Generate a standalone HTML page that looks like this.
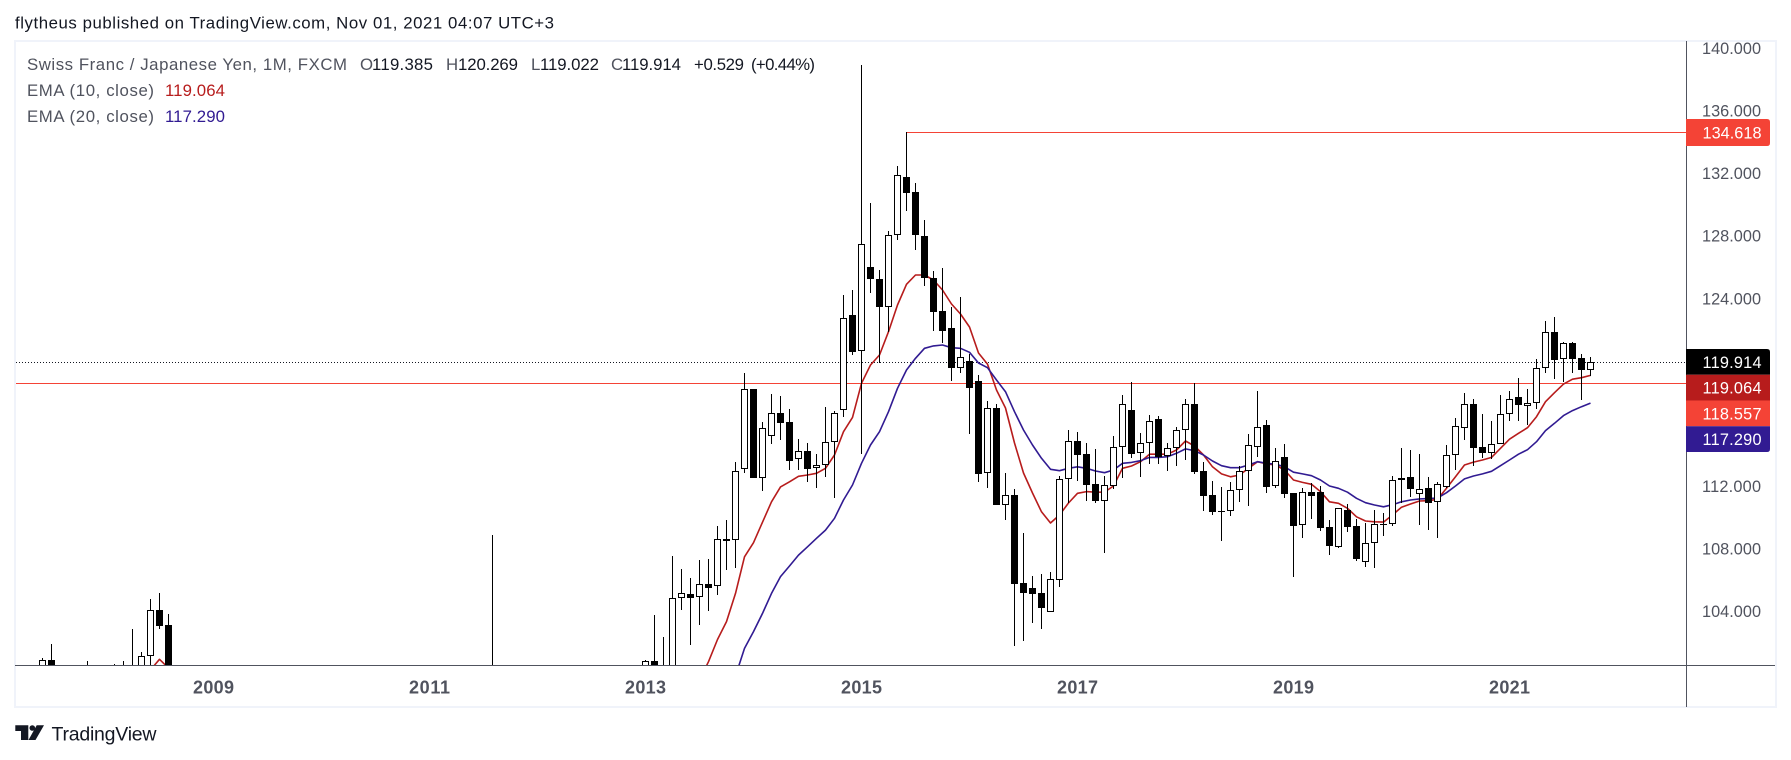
<!DOCTYPE html>
<html lang="en">
<head>
<meta charset="utf-8">
<title>CHFJPY monthly chart</title>
<style>
  html, body { margin: 0; padding: 0; background: #fff; }
  svg { display: block; }
  text { font-family: "Liberation Sans", sans-serif; }
</style>
</head>
<body>
<svg id="chart" xmlns="http://www.w3.org/2000/svg" width="1791" height="760" viewBox="0 0 1791 760">
  <rect x="0" y="0" width="1791" height="760" fill="#ffffff"/>
  <text x="15" y="28.5" font-size="16.8" fill="#131722" textLength="539">flytheus published on TradingView.com, Nov 01, 2021 04:07 UTC+3</text>
  <rect x="15" y="41" width="1761" height="666" fill="none" stroke="#f0f3fa" stroke-width="2"/>
  <g id="pane"></g>
  <rect x="15" y="665" width="1760" height="1" fill="#50535e"/>
  <rect x="1686" y="41" width="1" height="666" fill="#50535e"/>
  <g id="priceTicksG"></g>
  <g id="timeTicksG"></g>
  <g id="tagsG"></g>

  <g font-size="16.8">
    <text x="27" y="70" fill="#50535e" textLength="320">Swiss Franc / Japanese Yen, 1M, FXCM</text>
    <text x="360" y="70" fill="#50535e">O</text>
    <text x="372" y="70" fill="#131722" textLength="61">119.385</text>
    <text x="446" y="70" fill="#50535e">H</text>
    <text x="458" y="70" fill="#131722" textLength="60">120.269</text>
    <text x="531" y="70" fill="#50535e">L</text>
    <text x="540" y="70" fill="#131722" textLength="59">119.022</text>
    <text x="611" y="70" fill="#50535e">C</text>
    <text x="622" y="70" fill="#131722" textLength="59">119.914</text>
    <text x="694" y="70" fill="#131722" textLength="50">+0.529</text>
    <text x="751" y="70" fill="#131722" textLength="64">(+0.44%)</text>
    <text x="27" y="96" fill="#50535e" textLength="127">EMA (10, close)</text>
    <text x="165" y="96" fill="#b71c1c" textLength="60">119.064</text>
    <text x="27" y="122" fill="#50535e" textLength="127">EMA (20, close)</text>
    <text x="165" y="122" fill="#311b92" textLength="60">117.290</text>
  </g>

  <g>
    <path fill="#131722" d="M15.3 725.3H28.3V740H21V731H15.3Z M36.7 725.3H44L35.5 740H28.5Z"/>
    <circle cx="32.3" cy="728" r="2.8" fill="#131722"/>
    <text x="51.5" y="740.5" font-size="19.5" fill="#131722" textLength="105">TradingView</text>
  </g>
</svg>

<script>
// ---- chart data ----
const months = [
  "2007-06","2007-07","2007-11","2008-02","2008-03","2008-04","2008-05","2008-06","2008-07","2008-08","2011-08",
  "2013-01","2013-02","2013-03","2013-04","2013-05","2013-06","2013-07","2013-08","2013-09","2013-10","2013-11","2013-12",
  "2014-01","2014-02","2014-03","2014-04","2014-05","2014-06","2014-07","2014-08","2014-09","2014-10","2014-11","2014-12",
  "2015-01","2015-02","2015-03","2015-04","2015-05","2015-06","2015-07","2015-08","2015-09","2015-10","2015-11","2015-12",
  "2016-01","2016-02","2016-03","2016-04","2016-05","2016-06","2016-07","2016-08","2016-09","2016-10","2016-11","2016-12",
  "2017-01","2017-02","2017-03","2017-04","2017-05","2017-06","2017-07","2017-08","2017-09","2017-10","2017-11","2017-12",
  "2018-01","2018-02","2018-03","2018-04","2018-05","2018-06","2018-07","2018-08","2018-09","2018-10","2018-11","2018-12",
  "2019-01","2019-02","2019-03","2019-04","2019-05","2019-06","2019-07","2019-08","2019-09","2019-10","2019-11","2019-12",
  "2020-01","2020-02","2020-03","2020-04","2020-05","2020-06","2020-07","2020-08","2020-09","2020-10","2020-11","2020-12",
  "2021-01","2021-02","2021-03","2021-04","2021-05","2021-06","2021-07","2021-08","2021-09","2021-10"
];
const opens = [
  100.0,100.86,100.2,99.8,100.0,100.0,100.2,101.13,104.06,103.08,100.0,
  100.0,100.77,100.0,100.2,104.80,105.06,104.87,105.72,105.61,108.60,108.52,113.06,
  118.19,112.48,115.17,116.66,116.08,113.73,114.23,113.12,113.31,114.78,116.83,122.91,
  120.61,125.98,125.21,123.42,128.03,131.76,130.78,127.97,125.28,123.19,122.10,119.57,
  119.99,118.71,112.80,116.98,110.79,111.41,105.78,105.46,105.14,103.95,105.99,112.42,
  114.87,114.04,112.12,111.01,111.97,114.46,116.85,114.08,114.72,116.26,113.89,114.40,
  115.55,117.24,112.93,111.41,110.37,110.37,111.71,112.93,114.46,115.89,111.97,113.84,
  111.54,109.47,111.60,111.60,109.35,108.10,110.45,109.41,107.11,108.32,109.54,109.54,
  112.35,112.55,111.46,111.84,110.95,111.94,113.95,115.68,117.24,114.48,114.08,114.70,
  116.58,117.66,117.09,117.28,119.52,121.82,120.09,121.12,120.16,119.385
];
const highs = [
  100.97,101.88,100.79,100.60,100.79,102.84,101.35,104.74,105.14,103.78,108.88,
  100.86,103.74,102.35,107.51,106.68,106.08,107.25,107.32,109.43,109.81,113.52,119.22,
  118.19,116.08,117.87,117.75,116.91,115.00,114.74,114.04,117.04,116.81,124.21,124.53,
  138.92,130.09,125.81,128.28,132.46,134.64,131.36,129.01,125.74,125.94,123.46,124.06,
  120.43,119.09,117.43,117.23,112.82,111.80,108.98,106.23,106.36,106.49,112.63,115.57,
  115.44,114.72,114.36,112.63,115.19,117.81,118.62,115.38,116.53,116.45,114.72,115.76,
  117.54,118.56,113.52,112.31,111.93,112.24,113.25,115.32,118.07,116.21,114.42,114.68,
  111.54,111.86,112.18,111.99,109.81,110.56,110.82,109.90,109.62,110.45,110.24,112.61,
  114.42,114.29,114.04,112.56,112.24,114.61,116.36,117.94,117.55,116.60,116.15,117.81,
  118.07,118.90,118.19,120.09,122.55,122.80,121.20,121.18,120.42,120.269
];
const lows = [
  99.8,100.2,99.5,99.4,99.4,99.5,99.8,100.0,102.84,99.5,99.5,
  99.8,99.6,99.6,99.8,104.06,101.82,103.10,104.01,105.01,106.61,106.76,112.84,
  112.52,111.69,114.70,114.95,113.03,113.03,112.26,111.88,112.58,111.24,116.42,120.37,
  114.05,124.36,119.88,121.86,127.73,129.60,127.09,124.80,121.93,121.16,118.73,119.24,
  115.34,112.25,111.88,110.79,109.81,101.75,102.07,103.24,102.84,103.95,105.55,110.88,
  112.33,111.05,110.92,107.68,111.80,112.52,113.80,112.58,113.41,113.41,112.97,113.29,
  113.67,112.77,110.41,110.15,108.49,110.09,110.98,110.73,113.86,111.56,111.88,111.24,
  106.19,108.68,109.88,109.13,107.57,108.04,109.07,107.21,106.83,106.76,108.79,109.45,
  110.92,111.28,109.49,109.17,108.68,111.84,113.01,114.93,113.29,113.78,113.73,114.66,
  116.17,116.17,115.89,116.92,119.24,118.85,118.66,119.24,117.51,119.022
];
const closes = [
  100.86,100.3,100.0,99.5,99.7,100.3,101.13,104.03,103.05,100.0,100.2,
  100.77,100.0,100.3,104.80,105.12,104.84,105.70,105.48,108.58,108.49,112.95,118.17,
  112.52,115.68,116.64,116.04,113.61,114.21,113.10,113.31,114.78,116.64,122.72,120.58,
  127.45,125.25,123.42,128.03,131.87,130.75,128.07,125.28,123.14,121.93,119.57,120.22,
  118.28,112.77,116.96,110.79,111.39,105.74,105.14,105.08,104.20,106.02,112.42,114.85,
  113.99,112.07,111.05,112.03,114.46,117.22,114.06,114.72,116.13,113.86,114.40,115.55,
  117.22,112.90,111.37,110.34,110.34,111.71,112.93,114.59,115.74,111.94,113.57,111.50,
  109.45,111.59,111.37,109.32,108.17,110.56,109.38,107.34,108.32,109.54,109.51,112.35,
  112.48,111.82,111.82,110.92,112.10,113.95,115.81,117.22,114.44,114.12,114.70,116.58,
  117.54,117.19,117.28,119.56,121.82,120.07,121.12,120.13,119.39,119.914
];
const ema10 = [
  null,null,null,null,null,null,null,100.22,100.90,100.34,null,
  null,null,null,null,null,null,99.58,100.75,102.17,103.31,105.12,107.46,
  108.36,109.67,110.98,111.93,112.26,112.61,112.69,112.80,113.12,113.97,115.46,116.38,
  118.56,119.73,120.37,121.86,123.57,124.89,125.49,125.49,125.17,124.53,123.63,122.99,
  122.16,120.50,119.79,118.13,116.98,114.74,112.82,111.54,110.34,109.62,110.13,110.90,
  111.52,111.63,111.59,111.60,111.99,113.12,113.27,113.54,114.02,114.02,114.02,114.29,
  114.87,114.55,113.97,113.22,112.76,112.58,112.69,113.12,113.54,113.40,113.33,113.01,
  112.37,112.22,112.10,111.63,110.98,110.88,110.56,110.02,109.75,109.70,109.68,110.13,
  110.63,110.84,111.03,111.05,111.14,111.84,112.58,113.33,113.52,113.65,113.82,114.40,
  114.98,115.36,115.72,116.42,117.38,117.96,118.51,118.82,118.92,119.064
];
const ema20 = [
  null,null,null,null,null,null,null,null,null,null,null,
  null,null,null,null,null,null,null,null,null,null,99.83,101.60,
  102.67,103.84,105.12,106.19,106.87,107.57,108.10,108.64,109.17,109.92,111.09,112.05,
  113.44,114.61,115.46,116.74,118.24,119.41,120.16,120.80,120.95,121.01,120.84,120.80,
  120.54,119.86,119.56,118.77,118.02,116.74,115.57,114.61,113.76,113.06,112.97,113.12,
  113.22,113.12,112.95,112.84,113.01,113.44,113.50,113.61,113.82,113.82,113.86,114.08,
  114.36,114.25,113.97,113.59,113.29,113.16,113.16,113.33,113.54,113.44,113.38,113.22,
  112.87,112.76,112.65,112.37,111.99,111.84,111.59,111.20,110.92,110.77,110.66,110.79,
  110.98,111.09,111.16,111.18,111.22,111.56,111.99,112.44,112.63,112.76,112.93,113.29,
  113.65,114.02,114.31,114.82,115.53,116.00,116.49,116.81,117.06,117.29
];
const priceTicks = [140, 136, 132, 128, 124, 112, 108, 104];
const yearTicks = [2009, 2011, 2013, 2015, 2017, 2019, 2021];
const resistanceLevel = 134.618;
const resistanceStartMonth = "2015-06";
const supportLevel = 118.557;

// ---- axis functions ----
function monthIndex(m) {
  const parts = m.split("-");
  return (Number(parts[0]) - 2013) * 12 + Number(parts[1]) - 1;
}
function xOfMonth(m) { return 645.5 + 9 * monthIndex(m); }
function yOfPrice(p) { return 132.3 + (134.618 - p) * 15.63; }

const NS = "http://www.w3.org/2000/svg";
function make(tag, parent, attrs) {
  const el = document.createElementNS(NS, tag);
  for (const k in attrs) el.setAttribute(k, attrs[k]);
  parent.appendChild(el);
  return el;
}

const svg = document.getElementById("chart");
const pane = document.getElementById("pane");

const defs = make("defs", svg, {});
const clip = make("clipPath", defs, { id: "paneClip" });
make("rect", clip, { x: 16, y: 42, width: 1670, height: 623 });
pane.setAttribute("clip-path", "url(#paneClip)");

// ---- horizontal price lines ----
const dotted = make("line", pane, { x1: 16, x2: 1686, y1: Math.floor(yOfPrice(closes[closes.length - 1])) + 0.5, y2: Math.floor(yOfPrice(closes[closes.length - 1])) + 0.5, stroke: "#131722", "stroke-width": 1, "stroke-dasharray": "1 2" });



const resistance = make("rect", pane, { x: xOfMonth(resistanceStartMonth), y: Math.floor(yOfPrice(resistanceLevel)), width: 1686 - xOfMonth(resistanceStartMonth), height: 1, fill: "#f44336" });



const support = make("rect", pane, { x: 16, y: Math.floor(yOfPrice(supportLevel)), width: 1670, height: 1, fill: "#f44336" });



// ---- EMA lines ----
function emaPath(values) {
  let d = "";
  let pen = false;
  values.forEach(function (v, i) {
    if (v === null) { pen = false; return; }
    d += (pen ? "L" : "M") + xOfMonth(months[i]).toFixed(1) + " " + yOfPrice(v).toFixed(1);
    pen = true;
  });
  return d;
}
const ema10Line = make("path", pane, { d: emaPath(ema10), fill: "none", stroke: "#b71c1c", "stroke-width": 1.6, "stroke-linejoin": "round" });


const ema20Line = make("path", pane, { d: emaPath(ema20), fill: "none", stroke: "#311b92", "stroke-width": 1.6, "stroke-linejoin": "round" });



// ---- candles ----
months.forEach(function (m, i) {
  const x = xOfMonth(m);
  const up = closes[i] >= opens[i];
  const top = Math.round(yOfPrice(Math.max(opens[i], closes[i])));
  const bottom = Math.round(yOfPrice(Math.min(opens[i], closes[i])));
  const hi = Math.round(yOfPrice(highs[i]));
  const lo = Math.round(yOfPrice(lows[i]));
  const g = make("g", pane, {});
  
  
  make("rect", g, { x: x - 0.5, y: hi, width: 1, height: Math.max(1, lo - hi), fill: "#000" });
  const h = Math.max(1, bottom - top);
  make("rect", g, { x: x - 3.5, y: top, width: 7, height: h, fill: "#000" });
  if (up && h > 2) {
    make("rect", g, { x: x - 2.5, y: top + 1, width: 5, height: h - 2, fill: "#fff" });
  }
});

// ---- price axis ticks ----
const priceTicksG = document.getElementById("priceTicksG");
priceTicks.forEach(function (p) {
  const t = make("text", priceTicksG, { x: 1702, y: yOfPrice(p) + 6, "font-size": 16.3, fill: "#50535e", textLength: 59 });
  
  
  t.textContent = p.toFixed(3);
});

// ---- time axis ticks ----
const timeTicksG = document.getElementById("timeTicksG");
yearTicks.forEach(function (yr) {
  const t = make("text", timeTicksG, { x: xOfMonth(yr + "-01") - 20.5, y: 693.5, "font-size": 18, "font-weight": "bold", fill: "#50535e", textLength: 41 });
  
  
  t.textContent = String(yr);
});

// ---- price tags ----
const tagsG = document.getElementById("tagsG");
function tagShape(y, h, roundTop, roundBottom) {
  const x0 = 1686, x1 = 1770, r = 3;
  let d = "M" + x0 + " " + y;
  d += roundTop ? "H" + (x1 - r) + "Q" + x1 + " " + y + " " + x1 + " " + (y + r) : "H" + x1;
  d += roundBottom ? "V" + (y + h - r) + "Q" + x1 + " " + (y + h) + " " + (x1 - r) + " " + (y + h) : "V" + (y + h);
  d += "H" + x0 + "Z";
  return d;
}
function addTag(value, color, top, h, roundTop, roundBottom, name) {
  const g = make("g", tagsG, {});
  
  
  make("path", g, { d: tagShape(top, h, roundTop, roundBottom), fill: color });
  const t = make("text", g, { x: 1702.5, y: top + h / 2 + 6, "font-size": 16.3, fill: "#ffffff", textLength: 59 });
  t.textContent = value.toFixed(3);
}
addTag(resistanceLevel, "#f44336", 119, 27, true, true, "resistance-price-tag");
const lastClose = closes[closes.length - 1];
const tagHeight = 25.75;
const tagTop = yOfPrice(lastClose) - 13.1;
addTag(lastClose, "#000000", tagTop, tagHeight, true, false, "last-price-tag");
addTag(ema10[ema10.length - 1], "#b71c1c", tagTop + tagHeight, tagHeight, false, false, "ema-10-price-tag");
addTag(supportLevel, "#f44336", tagTop + 2 * tagHeight, tagHeight, false, false, "support-price-tag");
addTag(ema20[ema20.length - 1], "#311b92", tagTop + 3 * tagHeight, tagHeight, false, true, "ema-20-price-tag");
</script>
</body>
</html>
